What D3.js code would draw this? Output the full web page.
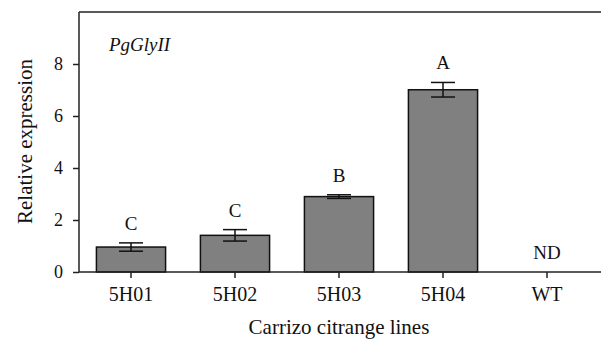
<!DOCTYPE html>
<html>
<head>
<meta charset="utf-8">
<script src="https://cdn.jsdelivr.net/npm/d3@7"></script>
<style>
  html, body { margin: 0; padding: 0; background: #fff; }
  svg { display: block; }
  text { font-family: "Liberation Serif", "Times New Roman", serif; fill: #111; }
</style>
</head>
<body>
<script>
const categories = ["5H01", "5H02", "5H03", "5H04", "WT"];
const values = [0.96, 1.41, 2.90, 7.01, 0];
const errors = [0.16, 0.22, 0.07, 0.28, 0];
const letters = ["C", "C", "B", "A", "ND"];
const yTicks = [0, 2, 4, 6, 8];
const geneName = "PgGlyII";
const xTitle = "Carrizo citrange lines";
const yTitle = "Relative expression";

const W = 601, H = 341;
const margin = { left: 79, right: 2, top: 12, bottom: 69 };

const svg = d3.select("body").append("svg").attr("width", W).attr("height", H);

const x = d3.scaleBand().domain(categories).range([margin.left, W - margin.right]).paddingInner(0.335).paddingOuter(0.1675);
const y = d3.scaleLinear().domain([0, 10]).range([H - margin.bottom, margin.top]);

// bars
svg.selectAll("rect.bar").data(values.map((v, i) => ({ c: categories[i], v })).filter(d => d.v > 0))
  .enter().append("rect")
  .attr("x", d => x(d.c))
  .attr("y", d => y(d.v))
  .attr("width", x.bandwidth())
  .attr("height", d => y(0) - y(d.v))
  .attr("fill", "#808080")
  .attr("stroke", "#111")
  .attr("stroke-width", 1.5);

// error bars
const capW = 12;
categories.forEach((c, i) => {
  if (values[i] <= 0) return;
  const cx = x(c) + x.bandwidth() / 2;
  const g = svg.append("g").attr("stroke", "#111").attr("stroke-width", 1.5);
  g.append("line").attr("x1", cx).attr("x2", cx).attr("y1", y(values[i] + errors[i])).attr("y2", y(values[i] - errors[i]));
  g.append("line").attr("x1", cx - capW).attr("x2", cx + capW).attr("y1", y(values[i] + errors[i])).attr("y2", y(values[i] + errors[i]));
  g.append("line").attr("x1", cx - capW).attr("x2", cx + capW).attr("y1", y(values[i] - errors[i])).attr("y2", y(values[i] - errors[i]));
});

// letters
svg.selectAll("text.letter").data(letters).enter().append("text")
  .attr("x", (d, i) => x(categories[i]) + x.bandwidth() / 2)
  .attr("y", (d, i) => y(values[i] + errors[i]) - 13)
  .attr("text-anchor", "middle")
  .attr("font-size", 19)
  .text(d => d);

// axes
const yAxis = svg.append("g").attr("transform", `translate(${margin.left},0)`)
  .call(d3.axisLeft(y).tickValues(yTicks).tickSize(6).tickPadding(10).tickFormat(d3.format("d")));
yAxis.select(".domain").attr("d", `M0,${y(0)}V${margin.top}`);
yAxis.selectAll("path, line").attr("stroke", "#222").attr("stroke-width", 1.5);
yAxis.selectAll("text").attr("font-size", 18).attr("font-family", "Liberation Serif").attr("fill", "#111");

const xAxis = svg.append("g").attr("transform", `translate(0,${y(0)})`)
  .call(d3.axisBottom(x).tickSize(6).tickPadding(9));
xAxis.select(".domain").attr("d", `M${margin.left},0H${W}`);
xAxis.selectAll("path, line").attr("stroke", "#222").attr("stroke-width", 1.5);
xAxis.selectAll("text").attr("font-size", 20).attr("font-family", "Liberation Serif").attr("fill", "#111");

// top frame line
svg.append("line").attr("x1", margin.left).attr("x2", W).attr("y1", margin.top).attr("y2", margin.top)
  .attr("stroke", "#222").attr("stroke-width", 1.5);

// gene name
svg.append("text").attr("x", 109).attr("y", 51).attr("font-size", 19).attr("font-style", "italic").text(geneName);

// titles
svg.append("text").attr("x", 339).attr("y", 334).attr("text-anchor", "middle").attr("font-size", 21).text(xTitle);
svg.append("text").attr("transform", `translate(32,141.5) rotate(-90)`).attr("text-anchor", "middle").attr("font-size", 21).text(yTitle);
</script>
</body>
</html>
